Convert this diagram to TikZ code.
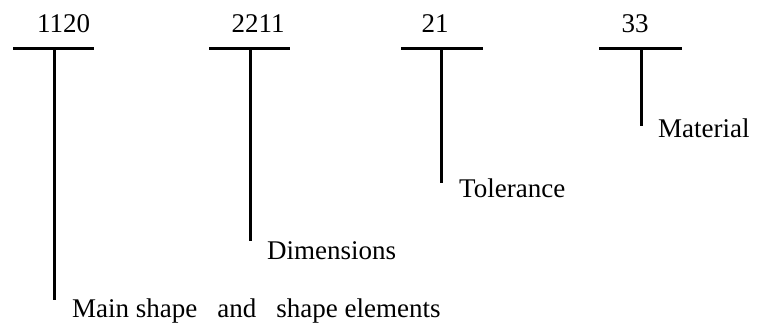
\documentclass[tikz,border=0pt]{standalone}
\usepackage{fontspec}
\setmainfont{Liberation Serif}
\begin{document}
\begin{tikzpicture}[x=1pt,y=-1pt,
  bar/.style={line width=3pt},
  code/.style={font=\fontsize{27}{31}\selectfont, anchor=base, inner sep=0pt},
  lbl/.style={font=\fontsize{27}{31}\selectfont, anchor=base west, inner sep=0pt}]
\useasboundingbox (0,0) rectangle (757,328);
% group 1
\node[code] (n1) at (63.5,33) {1120};
\coordinate (b1l) at (13,49); \coordinate (b1r) at (94,49);
\coordinate (b1m) at (54,49); \coordinate (e1) at (54,300);
\draw[bar] (b1l) -- (b1r);
\draw[bar] (b1m) -- (e1);
\node[lbl] (l1) at (72,318) {Main shape\hspace{20pt}and\hspace{20pt}shape elements};
% group 2
\node[code] (n2) at (258,33) {2211};
\coordinate (b2l) at (209,49); \coordinate (b2r) at (290,49);
\coordinate (b2m) at (250,49); \coordinate (e2) at (250,241);
\draw[bar] (b2l) -- (b2r);
\draw[bar] (b2m) -- (e2);
\node[lbl] (l2) at (267,260) {Dimensions};
% group 3
\node[code] (n3) at (435,33) {21};
\coordinate (b3l) at (401,49); \coordinate (b3r) at (483,49);
\coordinate (b3m) at (441,49); \coordinate (e3) at (441,183);
\draw[bar] (b3l) -- (b3r);
\draw[bar] (b3m) -- (e3);
\node[lbl] (l3) at (459,198) {Tolerance};
% group 4
\node[code] (n4) at (635,33) {33};
\coordinate (b4l) at (599,49); \coordinate (b4r) at (682,49);
\coordinate (b4m) at (641,49); \coordinate (e4) at (641,126);
\draw[bar] (b4l) -- (b4r);
\draw[bar] (b4m) -- (e4);
\node[lbl] (l4) at (658,138) {Material};
\end{tikzpicture}
\end{document}
